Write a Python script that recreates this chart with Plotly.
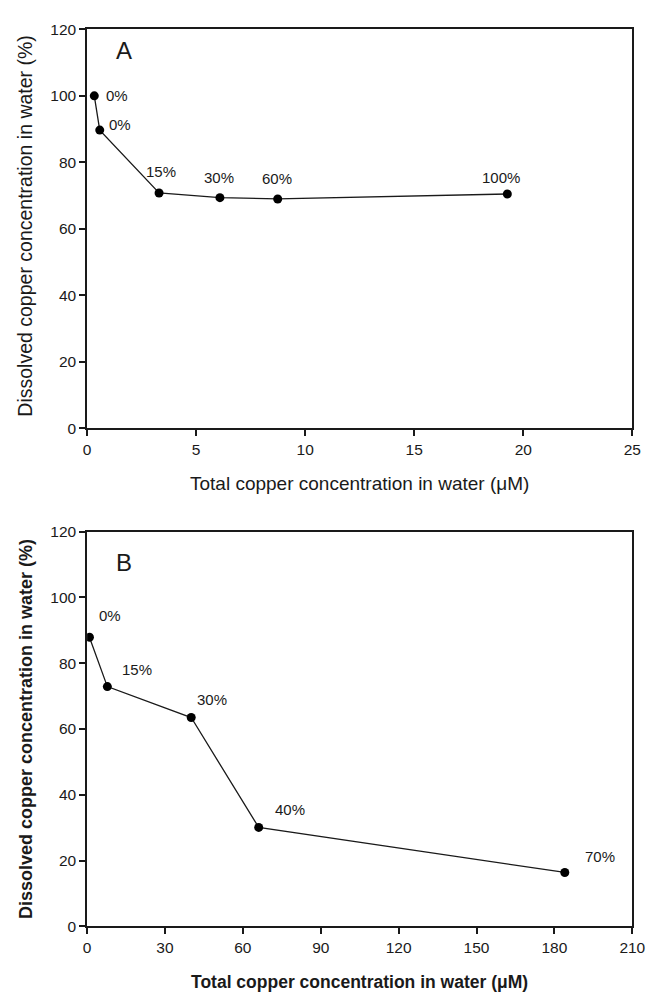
import plotly.graph_objects as go

# Panel A data
a_x = [0.33, 0.58, 3.3, 6.09, 8.74, 19.27]
a_y = [100.0, 89.7, 70.8, 69.4, 69.0, 70.5]
a_labels = ["0%", "0%", "15%", "30%", "60%", "100%"]

# Panel B data
b_x = [0.9, 7.8, 40.1, 66.1, 184.0]
b_y = [87.9, 72.9, 63.5, 30.1, 16.4]
b_labels = ["0%", "15%", "30%", "40%", "70%"]

a_xticks = [0, 5, 10, 15, 20, 25]
b_xticks = [0, 30, 60, 90, 120, 150, 180, 210]
y_ticks = [0, 20, 40, 60, 80, 100, 120]

x_title = "Total copper concentration in water (\u03bcM)"
y_title = "Dissolved copper concentration in water (%)"

W, H = 657, 1000
FONT = "Liberation Sans, Arial, sans-serif"
INK = "#1a1a1a"

# label offsets (pixels) relative to their points: style only
a_shift = [(10, 0), (7, 6), (2, 21), (-1, 20), (-1, 20), (-6, 16)]
b_shift = [(8, 22), (13, 17), (4, 18), (14, 18), (18, 16)]

fig = go.Figure()
fig.add_trace(go.Scatter(x=a_x, y=a_y, mode="lines+markers",
                         line=dict(color=INK, width=1.3),
                         marker=dict(color="black", size=9),
                         xaxis="x", yaxis="y", showlegend=False))
fig.add_trace(go.Scatter(x=b_x, y=b_y, mode="lines+markers",
                         line=dict(color=INK, width=1.3),
                         marker=dict(color="black", size=9),
                         xaxis="x2", yaxis="y2", showlegend=False))

axis_common = dict(showgrid=False, zeroline=False, showline=True, linecolor=INK,
                   linewidth=1.5, mirror=True, ticks="outside", ticklen=6,
                   tickwidth=1.5, tickcolor=INK,
                   tickfont=dict(family=FONT, size=15.5, color=INK))

xd = [85.3 / W, 645.0 / W]
fig.update_layout(
    width=W, height=H,
    margin=dict(l=0, r=0, t=0, b=0),
    paper_bgcolor="white", plot_bgcolor="white",
    xaxis=dict(domain=xd, range=[0, 25], tickvals=a_xticks, anchor="y", **axis_common),
    yaxis=dict(domain=[1 - 426.7 / H, 1 - 20.7 / H], range=[0, 120], tickvals=y_ticks,
               anchor="x", **axis_common),
    xaxis2=dict(domain=xd, range=[0, 210], tickvals=b_xticks, anchor="y2", **axis_common),
    yaxis2=dict(domain=[1 - 933.3 / H, 1 - 531.7 / H], range=[0, 120], tickvals=y_ticks,
                anchor="x2", **axis_common),
)

LBL = 15
ann = []
for xv, yv, t, (dx, dy) in zip(a_x, a_y, a_labels, a_shift):
    ann.append(dict(x=xv, y=yv, xref="x", yref="y", text=t, showarrow=False,
                    xshift=dx, yshift=dy, xanchor="left" if dx > 5 else "center",
                    yanchor="middle", font=dict(family=FONT, size=LBL, color=INK)))
for xv, yv, t, (dx, dy) in zip(b_x, b_y, b_labels, b_shift):
    ann.append(dict(x=xv, y=yv, xref="x2", yref="y2", text=t, showarrow=False,
                    xshift=dx, yshift=dy, xanchor="left", yanchor="middle",
                    font=dict(family=FONT, size=LBL, color=INK)))

# panel letters
ann.append(dict(x=123 / W, y=1 - 42 / H, xref="paper", yref="paper", text="A",
                showarrow=False, xanchor="center", yanchor="middle",
                font=dict(family=FONT, size=24, color=INK)))
ann.append(dict(x=123 / W, y=1 - 563 / H, xref="paper", yref="paper", text="B",
                showarrow=False, xanchor="center", yanchor="middle",
                font=dict(family=FONT, size=24, color=INK)))

# axis titles
ann.append(dict(x=365 / W, y=1 - 483 / H, xref="paper", yref="paper", text=x_title,
                showarrow=False, xanchor="center", yanchor="middle",
                font=dict(family=FONT, size=19, color=INK)))
ann.append(dict(x=365 / W, y=1 - 990 / H, xref="paper", yref="paper", text="<b>" + x_title + "</b>",
                showarrow=False, xanchor="center", yanchor="middle",
                font=dict(family=FONT, size=17.5, color=INK)))
ann.append(dict(x=22 / W, y=1 - 220 / H, xref="paper", yref="paper", text=y_title,
                showarrow=False, xanchor="center", yanchor="middle", textangle=-90,
                font=dict(family=FONT, size=19.5, color=INK)))
ann.append(dict(x=22 / W, y=1 - 732 / H, xref="paper", yref="paper", text="<b>" + y_title + "</b>",
                showarrow=False, xanchor="center", yanchor="middle", textangle=-90,
                font=dict(family=FONT, size=18, color=INK)))

fig.update_layout(annotations=ann)
fig.write_html("out.html")
